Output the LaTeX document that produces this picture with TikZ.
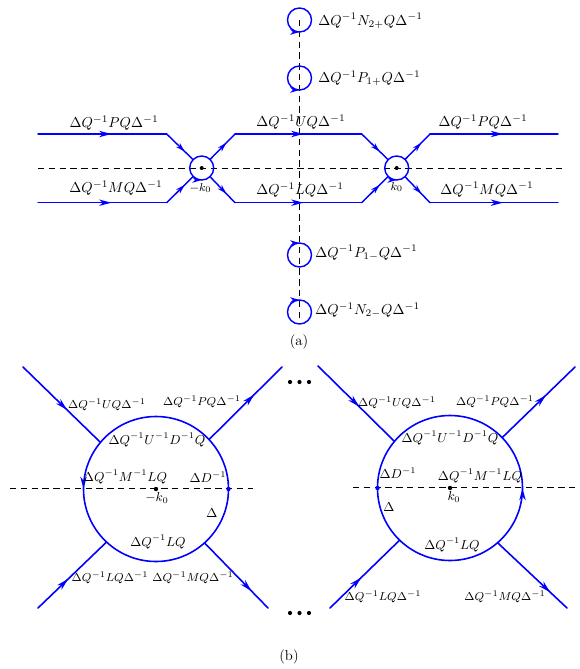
\documentclass[tikz,border=0pt]{standalone}
\usetikzlibrary{arrows.meta,decorations.markings}
\tikzset{
  wire/.style={blue, line width=1pt, line cap=round, line join=round},
  thickwire/.style={blue, line width=1.1pt, line cap=round},
  cutline/.style={black, line width=0.6pt, dash pattern=on 4.5pt off 3pt},
  tipat/.style={postaction={decorate}, decoration={markings,
      mark=at position #1 with {\arrow{Stealth[length=8.5pt,width=4.4pt,inset=2.6pt]}}}},
  smalltipat/.style={postaction={decorate}, decoration={markings,
      mark=at position #1 with {\arrow{Stealth[length=6.5pt,width=3.8pt,inset=2pt]}}}},
  vertex/.style={circle, inner sep=0pt, outer sep=0pt, minimum size=16.67pt},
  bubble/.style={circle, inner sep=0pt, outer sep=0pt, minimum size=100.7pt},
  tag/.style={inner sep=0pt},
  outtag/.style={inner sep=0pt, font=\footnotesize},
  intag/.style={inner sep=0pt, font=\small},
}
\begin{document}
\begin{tikzpicture}[x=0.6945pt, y=-0.6945pt]
\useasboundingbox (0,0) rectangle (579,669);

% ---------------- (a) ----------------
\coordinate (hl) at (38,168);   \coordinate (hr) at (562,168);
\coordinate (vt) at (299.5,20); \coordinate (vb) at (299.5,320);
\draw[cutline] (hl) -- (hr);
\draw[cutline] (vt) -- (vb);

\node[vertex] (vL) at (201.7,168) {};
\node[vertex] (vR) at (396.7,168) {};

\coordinate (pin)   at (38,134);    \coordinate (pbend) at (166.7,134);
\coordinate (min)   at (38,202.7);  \coordinate (mbend) at (166.7,202.7);
\coordinate (ubL)   at (235,134);   \coordinate (ubR)   at (361.7,134);
\coordinate (lbL)   at (235,202.7); \coordinate (lbR)   at (361.7,202.7);
\coordinate (pbo)   at (430,134);   \coordinate (pout)  at (558,134);
\coordinate (mbo)   at (430,202.7); \coordinate (mout)  at (558,202.7);

% incoming legs
\draw[wire, tipat=0.57] (pin) -- (pbend);
\draw[wire, smalltipat=0.68] (pbend) -- (vL);
\draw[wire, tipat=0.57] (min) -- (mbend);
\draw[wire, smalltipat=0.68] (mbend) -- (vL);
% middle legs
\draw[wire, smalltipat=0.65] (vL) -- (ubL);
\draw[wire, tipat=0.54] (ubL) -- (ubR);
\draw[wire, smalltipat=0.68] (ubR) -- (vR);
\draw[wire, smalltipat=0.65] (vL) -- (lbL);
\draw[wire, tipat=0.54] (lbL) -- (lbR);
\draw[wire, smalltipat=0.68] (lbR) -- (vR);
% outgoing legs
\draw[wire, smalltipat=0.65] (vR) -- (pbo);
\draw[wire, tipat=0.57] (pbo) -- (pout);
\draw[wire, smalltipat=0.65] (vR) -- (mbo);
\draw[wire, tipat=0.57] (mbo) -- (mout);

% vertex loops
\draw[wire, smalltipat=0.25] (vL.center) ++(180:12) arc[start angle=180, end angle=-180, radius=12];
\draw[wire, smalltipat=0.25] (vR.center) ++(180:12) arc[start angle=180, end angle=-180, radius=12];
\fill (vL) circle[radius=2];
\fill (vR) circle[radius=2];

% loops on the vertical line
\node[vertex] (n2p) at (299.5,20)  {};
\node[vertex] (p1p) at (299.5,78)  {};
\node[vertex] (p1m) at (299.5,255) {};
\node[vertex] (n2m) at (299.5,312) {};
\draw[wire, smalltipat=0.25] (n2p.center) ++(180:12) arc[start angle=180, end angle=-180, radius=12];
\draw[wire, smalltipat=0.25] (p1p.center) ++(180:12) arc[start angle=180, end angle=-180, radius=12];
\draw[wire, smalltipat=0.25] (p1m.center) ++(180:12) arc[start angle=180, end angle=540, radius=12];
\draw[wire, smalltipat=0.25] (n2m.center) ++(180:12) arc[start angle=180, end angle=540, radius=12];

\node[tag, anchor=base west] (tn2p) at (318,25)    {$\Delta Q^{-1}N_{2+}Q\Delta^{-1}$};
\node[tag, anchor=base west] (tp1p) at (318,82.7)  {$\Delta Q^{-1}P_{1+}Q\Delta^{-1}$};
\node[tag, anchor=base west] (tp1m) at (315,257)   {$\Delta Q^{-1}P_{1-}Q\Delta^{-1}$};
\node[tag, anchor=base west] (tn2m) at (315,314.3) {$\Delta Q^{-1}N_{2-}Q\Delta^{-1}$};

\node[tag, anchor=base] (tPa)  at (114,127.3) {$\Delta Q^{-1}PQ\Delta^{-1}$};
\node[tag, anchor=base] (tMa)  at (116,192.7) {$\Delta Q^{-1}MQ\Delta^{-1}$};
\node[tag, anchor=base] (tUa)  at (301,126.7) {$\Delta Q^{-1}UQ\Delta^{-1}$};
\node[tag, anchor=base] (tLa)  at (300,194.3) {$\Delta Q^{-1}LQ\Delta^{-1}$};
\node[tag, anchor=base] (tPb)  at (483,126.7) {$\Delta Q^{-1}PQ\Delta^{-1}$};
\node[tag, anchor=base] (tMb)  at (487,194)   {$\Delta Q^{-1}MQ\Delta^{-1}$};
\node[outtag] (tmk) at (200.5,188) {$-k_0$};
\node[outtag] (tpk) at (396.7,187) {$k_0$};

\node[tag] (capa) at (299,342) {(a)};

% ---------------- (b) ----------------
\coordinate (d1l) at (10,488);  \coordinate (d1r) at (253,488);
\coordinate (d2l) at (353,487); \coordinate (d2r) at (575,487);
\draw[cutline] (d1l) -- (d1r);
\draw[cutline] (d2l) -- (d2r);

\node[bubble] (B1) at (156,489) {};
\node[bubble] (B2) at (450,488) {};
\draw[thickwire, tipat=0.5] (B1.center) ++(0:72.5) arc[start angle=0, end angle=-360, radius=72.5];
\draw[thickwire, tipat=0.5] (B2.center) ++(180:72.5) arc[start angle=180, end angle=-180, radius=72.5];

% legs of the left bubble
\coordinate (a1) at (23,367);  \coordinate (b1) at (282,367);
\coordinate (c1) at (38,608);  \coordinate (e1) at (268,608);
\draw[thickwire, tipat=0.57] (a1) -- (B1.140);
\draw[thickwire, tipat=0.62] (B1.43) -- (b1);
\draw[thickwire, tipat=0.44] (c1) -- (B1.227);
\draw[thickwire, tipat=0.74] (B1.312) -- (e1);
% legs of the right bubble
\coordinate (a2) at (318,366); \coordinate (b2) at (575,367);
\coordinate (c2) at (330,608); \coordinate (e2) at (567,608);
\draw[thickwire, tipat=0.54] (a2) -- (B2.140);
\draw[thickwire, tipat=0.6]  (B2.44) -- (b2);
\draw[thickwire, tipat=0.45] (c2) -- (B2.226);
\draw[thickwire, tipat=0.76] (B2.311) -- (e2);

\fill[blue] (B1.east) circle[radius=2.2];
\fill[blue] (B2.west) circle[radius=2.2];
\fill (B1) circle[radius=2.2];
\fill (B2) circle[radius=2.2];

% ellipsis dots between the two bubbles
\foreach \x in {290,299.5,309} {
  \fill (\x,382) circle[radius=2.1];
  \fill (\x,613) circle[radius=2.1];
}

% labels of the left bubble
\node[outtag] (l1) at (107,405) {$\Delta Q^{-1}UQ\Delta^{-1}$};
\node[outtag] (l2) at (202,402) {$\Delta Q^{-1}PQ\Delta^{-1}$};
\node[intag]  (l3) at (157,440) {$\Delta Q^{-1}U^{-1}D^{-1}Q$};
\node[intag]  (l4) at (125,477) {$\Delta Q^{-1}M^{-1}LQ$};
\node[intag]  (l5) at (208,477) {$\Delta D^{-1}$};
\node[intag]  (l6) at (157,498) {$-k_0$};
\node[intag]  (l7) at (212,513) {$\Delta$};
\node[intag]  (l8) at (158,542) {$\Delta Q^{-1}LQ$};
\node[outtag] (l9) at (110,578) {$\Delta Q^{-1}LQ\Delta^{-1}$};
\node[outtag] (l10) at (193,578) {$\Delta Q^{-1}MQ\Delta^{-1}$};

% labels of the right bubble
\node[outtag] (r1) at (397,403) {$\Delta Q^{-1}UQ\Delta^{-1}$};
\node[outtag] (r2) at (495,402) {$\Delta Q^{-1}PQ\Delta^{-1}$};
\node[intag]  (r3) at (450,438) {$\Delta Q^{-1}U^{-1}D^{-1}Q$};
\node[intag]  (r4) at (398,473) {$\Delta D^{-1}$};
\node[intag]  (r5) at (480,476) {$\Delta Q^{-1}M^{-1}LQ$};
\node[intag]  (r6) at (454,497) {$k_0$};
\node[intag]  (r7) at (389,507) {$\Delta$};
\node[intag]  (r8) at (452,545) {$\Delta Q^{-1}LQ$};
\node[outtag] (r9) at (383,597) {$\Delta Q^{-1}LQ\Delta^{-1}$};
\node[outtag] (r10) at (505,597) {$\Delta Q^{-1}MQ\Delta^{-1}$};

\node[tag] (capb) at (289,657) {(b)};
\end{tikzpicture}
\end{document}
